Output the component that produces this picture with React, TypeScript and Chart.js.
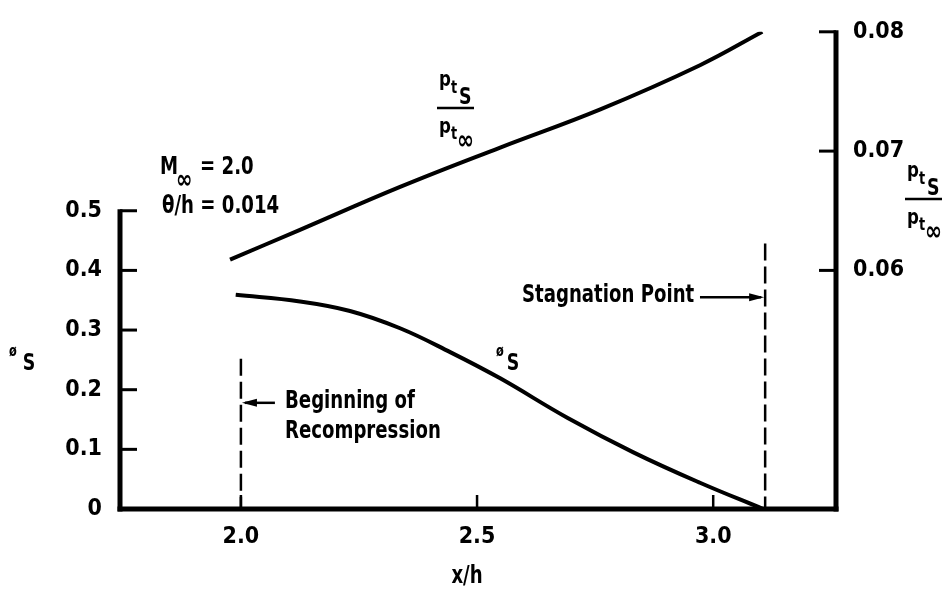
import React, { useEffect, useRef } from "react";
import { Chart, registerables } from "chart.js";

Chart.register(...registerables);

const FONT =
  '"Liberation Sans Narrow", "DejaVu Sans Condensed", "Arial Narrow", "Liberation Sans", sans-serif';

// ---- axis ticks ----
const xTicks = [2.0, 2.5, 3.0];
const xTickLabels = ["2.0", "2.5", "3.0"];
const leftTicks = [0, 0.1, 0.2, 0.3, 0.4, 0.5];
const leftTickLabels = ["0", "0.1", "0.2", "0.3", "0.4", "0.5"];
const rightTicks = [0.06, 0.07, 0.08];
const rightTickLabels = ["0.06", "0.07", "0.08"];

// ---- series: total pressure ratio p_tS / p_t∞ (right axis) ----
const xPressure = [1.977, 2.125, 2.337, 2.549, 2.761, 2.972, 3.104];
const pressureRatio = [0.0609, 0.0634, 0.067, 0.0703, 0.0735, 0.0772, 0.08];

// ---- series: φS (left axis) ----
const xPhi = [1.989, 2.125, 2.231, 2.337, 2.443, 2.549, 2.691, 2.831, 2.972, 3.106];
const phiS = [0.359, 0.348, 0.332, 0.303, 0.263, 0.219, 0.153, 0.095, 0.044, 0.0];

// ---- reference markers ----
const recompressionX = 2.0;
const recompressionTop = 0.252;
const recompressionArrow = { y: 0.178, from: 2.072 };
const stagnationX = 3.11;
const stagnationTop = 0.445;
const stagnationArrow = { y: 0.355, from: 2.972 };

const SX = 0.84;

function font(size: number) {
  return `bold ${size}px ${FONT}`;
}

function txt(
  ctx: CanvasRenderingContext2D,
  s: string,
  x: number,
  y: number,
  size: number,
  align: CanvasTextAlign = "left",
  baseline: CanvasTextBaseline = "middle"
) {
  ctx.save();
  ctx.font = font(size);
  ctx.textAlign = align;
  ctx.textBaseline = baseline;
  ctx.translate(x, y);
  ctx.scale(SX, 1);
  ctx.fillText(s, 0, 0);
  ctx.restore();
}

function seg(ctx: CanvasRenderingContext2D, x1: number, y1: number, x2: number, y2: number) {
  ctx.beginPath();
  ctx.moveTo(x1, y1);
  ctx.lineTo(x2, y2);
  ctx.stroke();
}

function arrowHead(ctx: CanvasRenderingContext2D, x: number, y: number, dir: number) {
  ctx.beginPath();
  ctx.moveTo(x, y);
  ctx.lineTo(x - dir * 15, y - 4);
  ctx.lineTo(x - dir * 15, y + 4);
  ctx.closePath();
  ctx.fill();
}

// p_t subscript fraction label
function fraction(ctx: CanvasRenderingContext2D, x0: number, barY: number, sub: string, den: string) {
  txt(ctx, "p", x0 + 2, barY - 22, 22, "left", "alphabetic");
  txt(ctx, "t", x0 + 14, barY - 15, 17, "left", "alphabetic");
  txt(ctx, sub, x0 + 22, barY - 4, 23, "left", "alphabetic");
  ctx.lineWidth = 2.5;
  seg(ctx, x0, barY, x0 + 37, barY);
  txt(ctx, "p", x0 + 2, barY + 25, 22, "left", "alphabetic");
  txt(ctx, "t", x0 + 14, barY + 31, 17, "left", "alphabetic");
  txt(ctx, den, x0 + 20, barY + 41, 27, "left", "alphabetic");
}

const decor = {
  id: "decor",
  afterDatasetsDraw(chart: any) {
    const { ctx, chartArea: ca, scales } = chart;
    const xs = scales.x;
    const ys = scales.y;
    const y2 = scales.y2;
    ctx.save();
    ctx.strokeStyle = "#000";
    ctx.fillStyle = "#000";
    ctx.lineCap = "butt";

    // frame lines
    ctx.lineWidth = 5;
    seg(ctx, ca.left, ys.getPixelForValue(leftTicks[leftTicks.length - 1]) - 1.5, ca.left, ca.bottom + 2.5);
    seg(ctx, ca.left - 2.5, ca.bottom, ca.right + 2.5, ca.bottom);
    seg(ctx, ca.right, y2.getPixelForValue(rightTicks[rightTicks.length - 1]) - 1.5, ca.right, ca.bottom + 2.5);

    // tick marks (inward)
    ctx.lineWidth = 3;
    leftTicks.slice(1).forEach((v) => {
      const p = ys.getPixelForValue(v);
      seg(ctx, ca.left, p, ca.left + 17, p);
    });
    rightTicks.forEach((v) => {
      const p = y2.getPixelForValue(v);
      seg(ctx, ca.right - 17, p, ca.right, p);
    });
    ctx.lineWidth = 2.5;
    xTicks.forEach((v) => {
      const p = xs.getPixelForValue(v);
      seg(ctx, p, ca.bottom, p, ca.bottom - 14);
    });

    // dashed reference lines
    ctx.lineWidth = 2.5;
    ctx.setLineDash([17, 6]);
    const rx = xs.getPixelForValue(recompressionX);
    seg(ctx, rx, ys.getPixelForValue(recompressionTop), rx, ca.bottom);
    const sx = xs.getPixelForValue(stagnationX);
    seg(ctx, sx, ys.getPixelForValue(stagnationTop), sx, ca.bottom);
    ctx.setLineDash([]);

    // arrows
    ctx.lineWidth = 2.5;
    const ay1 = ys.getPixelForValue(recompressionArrow.y);
    seg(ctx, xs.getPixelForValue(recompressionArrow.from), ay1, rx + 4, ay1);
    arrowHead(ctx, rx + 1, ay1, -1);
    const ay2 = ys.getPixelForValue(stagnationArrow.y);
    seg(ctx, xs.getPixelForValue(stagnationArrow.from), ay2, sx - 4, ay2);
    arrowHead(ctx, sx - 1, ay2, 1);

    // annotation texts
    txt(ctx, "Beginning of", 285, 402, 24);
    txt(ctx, "Recompression", 285, 432, 24);
    txt(ctx, "Stagnation Point", 522, 296, 24);

    // conditions
    txt(ctx, "M", 160, 168, 24);
    txt(ctx, "\u221E", 176, 181, 26);
    txt(ctx, "= 2.0", 200, 168, 24);
    txt(ctx, "\u03B8/h = 0.014", 162, 207, 24);

    // curve labels
    txt(ctx, "\u00F8", 500, 352, 15, "center");
    txt(ctx, "S", 513, 364, 23, "center");
    fraction(ctx, 437, 108, "S", "\u221E");

    // axis titles
    txt(ctx, "\u00F8", 13, 352, 15, "center");
    txt(ctx, "S", 29, 364, 23, "center");
    fraction(ctx, 905, 199, "S", "\u221E");

    // x title
    txt(ctx, "x/h", 467, 577, 24, "center");

    ctx.restore();
  },
};

export default function App() {
  const ref = useRef<HTMLCanvasElement>(null);

  useEffect(() => {
    if (!ref.current) return;
    const tickFont = { family: FONT, size: 23, weight: "bold" as const };
    const chart = new Chart(ref.current, {
      type: "line",
      data: {
        datasets: [
          {
            label: "pts/pt∞",
            data: xPressure.map((x, i) => ({ x, y: pressureRatio[i] })),
            yAxisID: "y2",
            borderColor: "#000",
            borderWidth: 4,
            pointRadius: 0,
            tension: 0.4,
            fill: false,
          },
          {
            label: "øS",
            data: xPhi.map((x, i) => ({ x, y: phiS[i] })),
            yAxisID: "y",
            borderColor: "#000",
            borderWidth: 4,
            pointRadius: 0,
            tension: 0.4,
            fill: false,
          },
        ],
      },
      options: {
        animation: false,
        responsive: false,
        layout: { padding: { top: 21, left: 0, right: 0, bottom: 0 } },
        plugins: { legend: { display: false }, tooltip: { enabled: false } },
        scales: {
          x: {
            type: "linear",
            position: "bottom",
            min: 1.744,
            max: 3.26,
            grid: { display: false, drawTicks: false },
            border: { display: false },
            afterBuildTicks: (s: any) => {
              s.ticks = xTicks.map((v) => ({ value: v }));
            },
            afterFit: (s: any) => {
              s.height = 80;
            },
            ticks: {
              font: tickFont,
              color: "#000",
              padding: 14,
              maxRotation: 0,
              callback: (_v: any, i: number) => xTickLabels[i],
            },
          },
          y: {
            type: "linear",
            position: "left",
            min: 0,
            max: 0.8,
            grid: { display: false, drawTicks: false },
            border: { display: false },
            afterBuildTicks: (s: any) => {
              s.ticks = leftTicks.map((v) => ({ value: v }));
            },
            afterFit: (s: any) => {
              s.width = 120;
            },
            ticks: {
              font: tickFont,
              color: "#000",
              padding: 18,
              callback: (_v: any, i: number) => leftTickLabels[i],
            },
          },
          y2: {
            type: "linear",
            position: "right",
            min: 0.04,
            max: 0.08,
            grid: { display: false, drawTicks: false },
            border: { display: false },
            afterBuildTicks: (s: any) => {
              s.ticks = rightTicks.map((v) => ({ value: v }));
            },
            afterFit: (s: any) => {
              s.width = 111;
            },
            ticks: {
              font: tickFont,
              color: "#000",
              padding: 17,
              callback: (_v: any, i: number) => rightTickLabels[i],
            },
          },
        },
      },
      plugins: [decor],
    });
    return () => chart.destroy();
  }, []);

  return (
    <div style={{ position: "absolute", left: 0, top: 0, width: 947, height: 589, background: "#fff" }}>
      <canvas ref={ref} width={947} height={589} style={{ display: "block" }} />
    </div>
  );
}
